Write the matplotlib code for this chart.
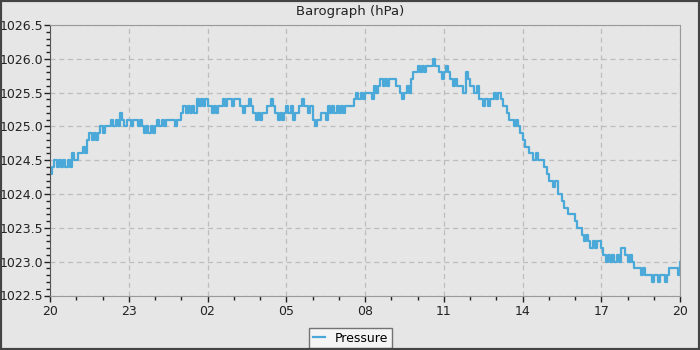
import matplotlib
matplotlib.use("Agg")
import matplotlib.pyplot as plt
from matplotlib.patches import Rectangle

# Pressure readings, one every 5 minutes from 20:00 to 20:00 next day (hPa)
pressure = [
    1024.3, 1024.4, 1024.5, 1024.4, 1024.5, 1024.4, 1024.5, 1024.4, 1024.5, 1024.4, 1024.6, 1024.5,
    1024.5, 1024.6, 1024.6, 1024.7, 1024.6, 1024.8, 1024.9, 1024.8, 1024.9, 1024.8, 1024.9, 1025.0,
    1024.9, 1025.0, 1025.0, 1025.0, 1025.1, 1025.0, 1025.1, 1025.0, 1025.2, 1025.1, 1025.0, 1025.1,
    1025.1, 1025.0, 1025.1, 1025.1, 1025.0, 1025.1, 1025.0, 1024.9, 1025.0, 1024.9, 1025.0, 1024.9,
    1025.0, 1025.1, 1025.0, 1025.1, 1025.0, 1025.1, 1025.1, 1025.1, 1025.1, 1025.0, 1025.1, 1025.1,
    1025.2, 1025.3, 1025.2, 1025.3, 1025.2, 1025.3, 1025.2, 1025.4, 1025.3, 1025.4, 1025.3, 1025.4,
    1025.3, 1025.3, 1025.2, 1025.3, 1025.2, 1025.3, 1025.3, 1025.4, 1025.3, 1025.4, 1025.4, 1025.3,
    1025.4, 1025.4, 1025.4, 1025.3, 1025.2, 1025.3, 1025.3, 1025.4, 1025.3, 1025.2, 1025.1, 1025.2,
    1025.1, 1025.2, 1025.2, 1025.3, 1025.3, 1025.4, 1025.3, 1025.2, 1025.1, 1025.2, 1025.1, 1025.2,
    1025.3, 1025.2, 1025.3, 1025.1, 1025.2, 1025.2, 1025.3, 1025.4, 1025.3, 1025.3, 1025.2, 1025.3,
    1025.1, 1025.0, 1025.1, 1025.1, 1025.2, 1025.2, 1025.1, 1025.3, 1025.2, 1025.3, 1025.2, 1025.3,
    1025.2, 1025.3, 1025.2, 1025.3, 1025.3, 1025.3, 1025.3, 1025.4, 1025.5, 1025.4, 1025.5, 1025.4,
    1025.5, 1025.5, 1025.5, 1025.4, 1025.6, 1025.5, 1025.6, 1025.7, 1025.6, 1025.7, 1025.6, 1025.7,
    1025.7, 1025.7, 1025.6, 1025.6, 1025.5, 1025.4, 1025.5, 1025.6, 1025.5, 1025.7, 1025.8, 1025.8,
    1025.9, 1025.8, 1025.9, 1025.8, 1025.9, 1025.9, 1025.9, 1026.0, 1025.9, 1025.9, 1025.8, 1025.7,
    1025.8, 1025.9, 1025.8, 1025.7, 1025.6, 1025.7, 1025.6, 1025.6, 1025.6, 1025.5, 1025.8, 1025.7,
    1025.6, 1025.6, 1025.5, 1025.6, 1025.4, 1025.4, 1025.3, 1025.4, 1025.3, 1025.4, 1025.4, 1025.5,
    1025.4, 1025.5, 1025.4, 1025.3, 1025.3, 1025.2, 1025.1, 1025.1, 1025.0, 1025.1, 1025.0, 1024.9,
    1024.8, 1024.7, 1024.7, 1024.6, 1024.6, 1024.5, 1024.6, 1024.5, 1024.5, 1024.5, 1024.4, 1024.3,
    1024.2, 1024.2, 1024.1, 1024.2, 1024.0, 1024.0, 1023.9, 1023.8, 1023.8, 1023.7, 1023.7, 1023.7,
    1023.6, 1023.5, 1023.5, 1023.4, 1023.3, 1023.4, 1023.3, 1023.2, 1023.3, 1023.2, 1023.3, 1023.3,
    1023.2, 1023.1, 1023.0, 1023.1, 1023.0, 1023.1, 1023.0, 1023.1, 1023.0, 1023.2, 1023.2, 1023.1,
    1023.0, 1023.1, 1023.0, 1022.9, 1022.9, 1022.9, 1022.8, 1022.9, 1022.8, 1022.8, 1022.8, 1022.7,
    1022.8, 1022.8, 1022.7, 1022.8, 1022.8, 1022.7, 1022.8, 1022.9, 1022.9, 1022.9, 1022.9, 1022.8,
    1023.0,
]
hours = [i * 5 / 60 for i in range(len(pressure))]

tick_hours = [0, 3, 6, 9, 12, 15, 18, 21, 24]
tick_labels = ["20", "23", "02", "05", "08", "11", "14", "17", "20"]

bg = "#e6e6e6"
line_col = "#4ba9d9"

fig = plt.figure(figsize=(7, 3.5), dpi=100, facecolor=bg)
ax = fig.add_axes([50 / 700, 1 - 295.5 / 350, 630 / 700, 270.5 / 350])
ax.set_facecolor(bg)

ax.plot(hours, pressure, drawstyle="steps-post", color=line_col, lw=1.6, label="Pressure")

ax.set_xlim(0, 24)
ax.set_ylim(1022.5, 1026.5)
ax.set_xticks(tick_hours)
ax.set_xticklabels(tick_labels)
ax.set_xticks(range(25), minor=True)
ax.set_yticks([1022.5 + 0.5 * k for k in range(9)])
ax.set_yticklabels(["%.1f" % (1022.5 + 0.5 * k) for k in range(9)])
ax.set_yticks([1022.5 + 0.1 * k for k in range(41)], minor=True)

ax.tick_params(which="major", length=4, width=1, labelsize=9, color="#222222", labelcolor="#222222")
ax.tick_params(which="minor", length=3, width=1, color="#222222")
ax.tick_params(axis="x", pad=3)
ax.tick_params(axis="y", pad=1)

ax.grid(True, which="major", color="#bdbdbd", linestyle=(0, (4, 3)), lw=0.9)
for side in ["top", "right", "bottom"]:
    ax.spines[side].set_color("#9a9a9a")
ax.spines["left"].set_color("#555555")

fig.text(0.5, 1 - 12 / 350, "Barograph (hPa)", ha="center", va="center", fontsize=9.5, color="#222222")

leg = fig.legend(loc="center", bbox_to_anchor=(350.5 / 700, 1 - 338 / 350), fontsize=9,
                 frameon=True, fancybox=False, handlelength=1.0, handletextpad=0.8,
                 borderpad=0.3, borderaxespad=0)
leg.get_frame().set_facecolor("#f8f8f8")
leg.get_frame().set_edgecolor("#555555")
leg.get_frame().set_linewidth(1)

# dark border around the whole picture
fig.patches.append(Rectangle((0, 0), 1, 1, transform=fig.transFigure, fill=False,
                             edgecolor="#444444", lw=3, zorder=10))

fig.savefig("out.png", dpi=100, facecolor=bg)
